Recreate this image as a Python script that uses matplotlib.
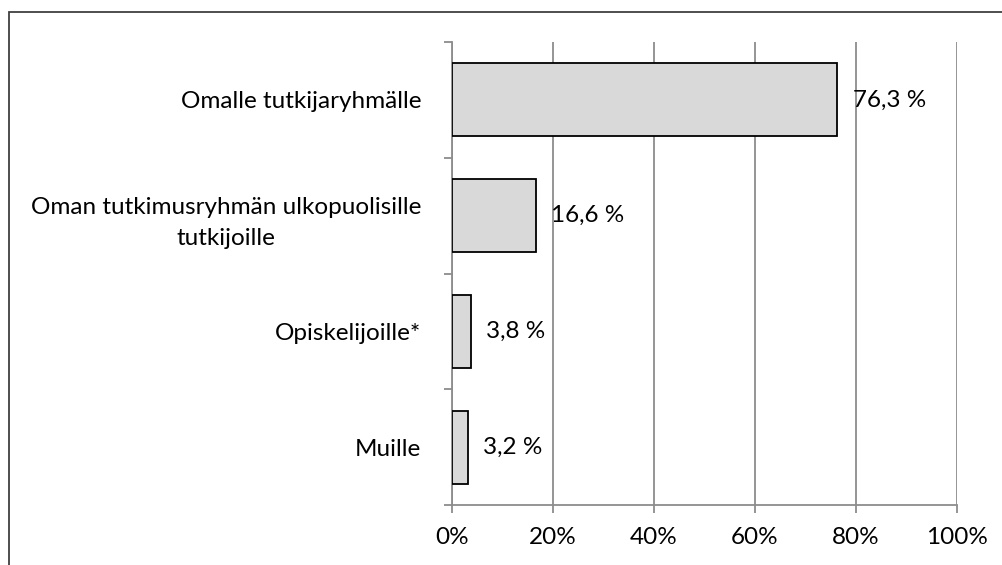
import matplotlib
matplotlib.use("Agg")
import matplotlib.pyplot as plt
from matplotlib.patches import Rectangle
from matplotlib.transforms import offset_copy

categories = ["Omalle tutkijaryhmälle",
              "Oman tutkimusryhmän ulkopuolisille\ntutkijoille",
              "Opiskelijoille*",
              "Muille"]
values = [76.3, 16.6, 3.8, 3.2]
value_labels = ["76,3 %", "16,6 %", "3,8 %", "3,2 %"]
xticks = [0, 20, 40, 60, 80, 100]
xtick_labels = ["0%", "20%", "40%", "60%", "80%", "100%"]

W, H = 1003, 565
fig = plt.figure(figsize=(W / 100, H / 100), dpi=100)
plt.rcParams['font.family'] = ['Lato', 'DejaVu Sans']
FS = 17.5

left, right, top, bottom = 452, 957, 42, 505
ax = fig.add_axes([left / W, 1 - bottom / H, (right - left) / W, (bottom - top) / H])

n = len(categories)
ypos = list(range(n))
ax.barh(ypos, values, height=0.63, color="#d9d9d9", edgecolor="black", linewidth=1.3, zorder=3)
ax.set_ylim(n - 0.5, -0.5)
ax.set_xlim(0, 100)

gridc = "#8c8c8c"
ax.set_xticks(xticks)
ax.set_xticklabels(xtick_labels, fontsize=FS, color="black")
ax.xaxis.grid(True, color=gridc, linewidth=1.3, zorder=0)
ax.tick_params(axis="x", length=6, width=1.3, color=gridc, pad=10)

ax.set_yticks([i - 0.5 for i in range(n + 1)])
ax.set_yticklabels([])
ax.set_yticks(ypos, minor=True)
ax.set_yticklabels(categories, minor=True, fontsize=FS, ha="right",
                   multialignment="center", linespacing=1.6)
ax.tick_params(axis="y", which="major", length=6, width=1.3, color=gridc)
ax.tick_params(axis="y", which="minor", length=0, pad=22)

for s in ["top", "right"]:
    ax.spines[s].set_visible(False)
for s in ["left", "bottom"]:
    ax.spines[s].set_color(gridc)
    ax.spines[s].set_linewidth(1.3)

trans = offset_copy(ax.transData, fig=fig, x=11, y=0, units="points")
for y, v, lab in zip(ypos, values, value_labels):
    ax.text(v, y, lab, transform=trans, va="center", ha="left", fontsize=FS, zorder=4)

fig.patches.append(Rectangle((9 / W, -0.02), 1.1, 1 - 12 / H + 0.02, transform=fig.transFigure,
                             fill=False, edgecolor="#404040", linewidth=1.3))

fig.savefig("out.png", dpi=100)
